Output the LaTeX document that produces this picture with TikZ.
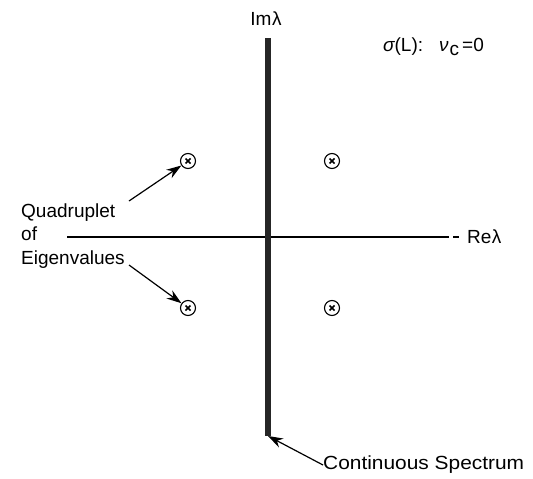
\documentclass[tikz,border=0pt]{standalone}
\usepackage{fontspec}
\setmainfont{Liberation Sans}
\usetikzlibrary{arrows.meta}
\begin{document}
\begin{tikzpicture}[x=1pt,y=-1pt,
  lbl/.style={font=\fontsize{19}{23.5}\selectfont, inner sep=0pt},
  eig/.style={draw, circle, line width=1.1pt, minimum size=15pt, inner sep=0pt,
    path picture={\draw[line width=1.5pt] ([shift={(-2.5pt,-2.5pt)}]path picture bounding box.center) -- ([shift={(2.5pt,2.5pt)}]path picture bounding box.center)
      ([shift={(-2.5pt,2.5pt)}]path picture bounding box.center) -- ([shift={(2.5pt,-2.5pt)}]path picture bounding box.center);}},
  arr/.style={line width=1.2pt, -{Stealth[length=15pt,width=10pt]}}]
\useasboundingbox (0,0) rectangle (533,479);
% axes
\coordinate (barT) at (268,38);
\coordinate (barB) at (268,436);
\coordinate (axL) at (67,237);
\coordinate (axR) at (449,237);
\coordinate (dA) at (453,237);
\coordinate (dB) at (459,237);
\draw[line width=1.3pt] (axL) -- (axR);
\draw[line width=1.3pt] (dA) -- (dB);
\draw[line width=6pt, black!85] (barT) -- (barB);
\node[lbl, anchor=west] (re) at (467,237) {Re\kern0.5pt λ};
\node[lbl] (im) at (266,19) {Im\kern0.5pt λ};
\node[lbl, anchor=west] (sig) at (383,47) {{\itshape σ}(L):\hspace{16pt}{\itshape ν}\kern1pt\raisebox{-4pt}{c}\kern3pt=0};
% eigenvalues
\node[eig] (e1) at (188,161) {};
\node[eig] (e2) at (332,161) {};
\node[eig] (e3) at (188,308) {};
\node[eig] (e4) at (332,308) {};
% labels
\node[lbl, anchor=west, align=left] (quad) at (21,236) {Quadruplet\\of\\Eigenvalues};
\coordinate (qa) at (129,201);
\coordinate (qb) at (129,265);
\draw[arr] (qa) -- (e1);
\draw[arr] (qb) -- (e3);
\node[lbl, anchor=west] (cs) at (323,465) {\scalebox{1.1}[1]{Continuous Spectrum}};
\draw[arr] (cs.west) -- (barB);
\end{tikzpicture}
\end{document}
